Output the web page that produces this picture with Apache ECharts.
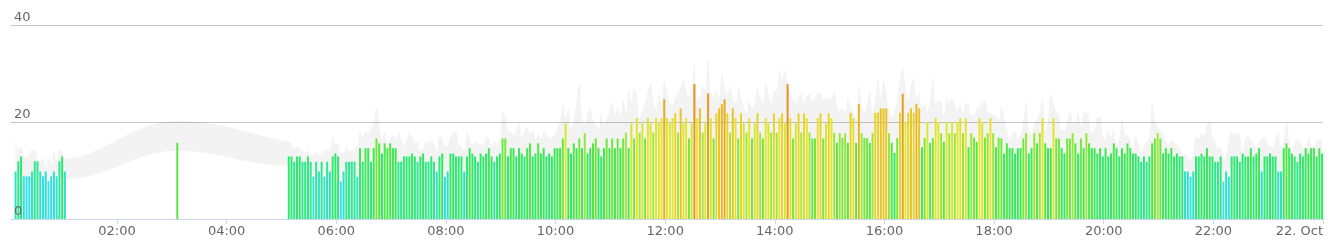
<!DOCTYPE html>
<html>
<head>
<meta charset="utf-8">
<script src="https://cdn.jsdelivr.net/npm/echarts@6/dist/echarts.min.js"></script>
<style>
html,body{margin:0;padding:0;background:#fff;}
#chart{width:1337px;height:250px;}
</style>
</head>
<body>
<div id="chart"></div>
<script>
// Time in minutes after midnight (21 Oct). Readings every 3 minutes.
const STEP = 3;

// 00:09 - 01:03
const windA = [9.8, 11.9, 12.9, 8.8, 8.8, 8.8, 9.8, 11.9, 11.9, 9.8, 8.8, 9.8, 7.8, 8.8, 9.8, 8.8, 11.9, 12.9, 9.8];
const gustA = [16.5, 14.5, 14.9, 13.2, 12.5, 13.5, 14.2, 14.2, 12.5, 11.8, 12.8, 10.8, 12.5, 11.5, 14.2, 12, 14.2, 14.2, 12.5];
const lowA  = [9, 9, 9, 8, 8, 8, 8.5, 9, 9, 8.5, 8, 8, 7.5, 8, 8.5, 8, 8.5, 9, 8.2];
// single reading at 03:06
const wind03 = [15.7];
const gust03 = [20.2];
const low03  = [14];
// 05:08 - 05:59
const windH05 = [12.9, 12.9, 11.8, 12.9, 12.9, 11.8, 11.8, 12.9, 11.8, 8.7, 11.8, 9.8, 11.8, 8.7, 11.8, 9.8, 12.9, 13.5];
const gustH05 = [15.9, 15.5, 14.5, 14.9, 14.5, 14.2, 13.8, 14.2, 13.2, 13.2, 13.8, 13.2, 13.5, 14.2, 14.5, 13.8, 17, 15.5];
const lowH05  = [11, 11, 10.5, 11, 11, 10.5, 10.5, 11, 10, 8, 10, 8.5, 10, 8, 10, 8.5, 11, 11.5];
// each following hour: hh:02 - hh:59
const windH06 = [12.9, 7.7, 9.8, 11.8, 11.8, 11.8, 11.8, 8.7, 14.6, 11.8, 14.6, 14.6, 11.8, 14.6, 16.6, 15.6, 13.5, 15.6, 14.6, 15.6];
const gustH06 = [15.5, 13.6, 13.6, 15, 14, 14.2, 14.5, 15, 18, 17, 18, 18, 18.5, 20, 23, 19.8, 16.5, 18, 15.5, 16.5];
const lowH06  = [11, 7, 8.5, 10.5, 10.5, 10.5, 10, 8, 12.5, 10.5, 12.5, 12.5, 11, 13, 14, 13.5, 12, 13.5, 12.5, 13.5];
const windH07 = [14.6, 14.6, 11.8, 11.8, 12.9, 12.9, 12.9, 13.5, 12.9, 11.8, 12.9, 13.5, 11.8, 11.8, 12.9, 11.8, 9.8, 12.9, 13.5, 8.7];
const gustH07 = [17.3, 16.5, 18, 16.5, 15.3, 16.2, 18, 17, 15.6, 16, 14.2, 14.5, 16, 15.6, 16.2, 15.6, 13.8, 17.3, 16.6, 15];
const lowH07  = [12.5, 12.5, 10.5, 10.5, 11.5, 11.5, 11.5, 12, 11.5, 10.5, 11.5, 12, 10.5, 10.5, 11.5, 10.5, 9, 11.5, 12, 8];
const windH08 = [9.8, 13.5, 13.5, 12.9, 12.9, 12.9, 9.8, 12.9, 14.6, 13.5, 12.9, 11.8, 13.5, 12.9, 13.5, 14.6, 12.9, 11.8, 12.9, 13.5];
const gustH08 = [15.3, 17, 18, 18, 15.6, 14.9, 14.2, 18, 16.5, 15.3, 15.9, 15.6, 15.3, 15.2, 17, 16.5, 15.3, 15.9, 15.3, 16];
const lowH08  = [9, 12, 12, 11.5, 11.5, 11.5, 9, 11.5, 13, 12, 11.5, 10.5, 12, 11.5, 12, 13, 11.5, 10.5, 11.5, 12];
const windH09 = [16.6, 16.6, 12.9, 14.6, 14.6, 12.9, 14.6, 13.5, 12.9, 14.6, 15.6, 12.9, 13.5, 15.6, 13.5, 14.6, 12.9, 13.5, 12.9, 14.6];
const gustH09 = [22, 21.5, 18.4, 18, 17.3, 18.4, 20, 17, 18, 19, 17.6, 18, 16.3, 17.6, 16.6, 18, 17.6, 16.6, 17, 17.3];
const lowH09  = [14.5, 14.5, 11.5, 13, 13, 11.5, 13, 12, 11.5, 13, 14, 11.5, 12, 14, 12, 13, 11.5, 12, 11.5, 13];
const windH10 = [14.6, 14.6, 16.6, 19.7, 14.6, 13.5, 15.6, 14.6, 16.6, 14.6, 17.7, 13.5, 14.6, 15.6, 16.6, 14.6, 12.9, 14.6, 16.6, 14.6];
const gustH10 = [19, 20, 23.8, 21, 22.5, 19, 20.5, 24.2, 28, 21, 19.5, 21.8, 23, 20.5, 19.6, 18.4, 22, 19.5, 21, 22.5];
const lowH10  = [13, 13, 14.5, 16, 13, 12, 14, 13, 14.5, 13, 15.5, 12, 13, 14, 14.5, 13, 11.5, 13, 14.5, 13.5];
const windH11 = [16.6, 14.6, 16.6, 14.6, 16.6, 17.8, 14.6, 19.7, 16.6, 20.8, 17.8, 19.7, 16.6, 20.8, 19.7, 17.8, 20.8, 19.7, 20.8, 24.7];
const gustH11 = [24.2, 21.5, 22.8, 21.5, 24.5, 22, 26.6, 24, 27, 25.6, 21, 22.8, 24, 26.3, 28, 24.5, 22.5, 25.9, 24, 28.7];
const lowH11  = [14.5, 13, 14.5, 13, 14.5, 15.5, 13, 17, 14.5, 18, 15.5, 17, 14.5, 18, 17, 15.5, 18, 17, 18, 15.5];
const windH12 = [20.8, 19.7, 20.8, 21.8, 17.8, 22.8, 19.7, 20.8, 16.6, 19.7, 27.8, 20.8, 22.8, 17.8, 19.7, 25.9, 20.8, 16.6, 21.8, 22.8];
const gustH12 = [26.3, 24, 23.5, 24.9, 26, 27.3, 28.7, 26.6, 25, 27, 32.1, 24.5, 25.5, 27.3, 26.6, 33, 26.5, 25, 26.6, 25];
const lowH12  = [19, 17, 18, 18.5, 15.5, 19, 17, 18, 14.5, 17, 20, 18, 19, 15.5, 17, 19.5, 18, 14.5, 18.5, 19];
const windH13 = [23.7, 24.7, 21.8, 17.8, 22.8, 20.8, 16.6, 21.8, 19.7, 17.8, 20.8, 16.6, 19.7, 21.8, 17.8, 16.6, 20.8, 19.7, 17.8, 21.8];
const gustH13 = [30, 27, 25.9, 27.3, 24.5, 23.8, 27.3, 25.2, 23, 21.8, 24.5, 23, 24, 27.3, 25, 24, 28, 26, 24, 26.5];
const lowH13  = [19.5, 20, 18.5, 15.5, 19, 18, 14.5, 18.5, 17, 15.5, 18, 14.5, 17, 18.5, 15.5, 14.5, 18, 17, 15.5, 18.5];
const windH14 = [17.8, 20.8, 21.8, 19.7, 27.8, 20.8, 16.6, 19.7, 21.8, 17.8, 21.8, 20.8, 17.8, 16.6, 16.6, 20.8, 21.8, 16.6, 19.7, 21.8];
const gustH14 = [26.5, 30.7, 28.7, 30.7, 28, 25.9, 24.5, 23.8, 25.2, 25.9, 23.8, 25.2, 25.9, 24.5, 25.2, 25.9, 25.9, 24.5, 25, 24.5];
const lowH14  = [15.5, 18, 19, 17, 19.5, 18, 14.5, 17, 19, 15.5, 19, 18, 15.5, 14.5, 14.5, 18, 19, 14.5, 17, 19];
const windH15 = [20.8, 17.8, 15.7, 17.7, 16.7, 17.7, 15.7, 21.9, 20.8, 15.7, 23.7, 17.7, 16.7, 16.7, 15.7, 17.7, 21.9, 21.9, 22.8, 22.8];
const gustH15 = [25, 26.3, 24, 22.2, 22.9, 21.9, 25, 23, 21.9, 20.8, 28, 23.6, 22.2, 24, 26.3, 22, 25, 28.7, 25, 28.7];
const lowH15  = [17.5, 15.5, 14.5, 15.5, 14.5, 15.5, 14.5, 18, 17.5, 14.5, 19, 15.5, 14.5, 14.5, 14.5, 15.5, 18, 18, 19, 19];
const windH16 = [22.8, 17.7, 15.7, 13.6, 16.7, 21.9, 25.8, 20, 21.9, 22.8, 21.9, 23.7, 22.8, 14.8, 16.7, 20, 15.7, 16.7, 20.8, 20];
const gustH16 = [25.6, 22.5, 21.2, 21.9, 25, 29, 31.2, 27.7, 24.6, 27.7, 29.1, 25, 26, 22.9, 23.6, 22.2, 24.3, 29.1, 23.6, 24.5];
const lowH16  = [19, 15.5, 14, 12.5, 15, 19, 20, 18, 19, 19.5, 19, 20, 19.5, 13.5, 15, 18, 14.5, 15, 18, 18];
const windH17 = [17.7, 15.9, 20, 17.7, 20, 17.7, 20, 20.8, 17.7, 20.8, 14.8, 17.7, 16.8, 15.9, 20.8, 20, 16.8, 17.7, 20.8, 17.7];
const gustH17 = [24.3, 21.2, 25, 23.9, 25, 23.6, 22.2, 23.6, 21.9, 23.9, 23.6, 21.5, 21.5, 22.9, 23.2, 23.9, 24.3, 22, 21.9, 21.5];
const lowH17  = [15.5, 14.5, 17.5, 15.5, 17.5, 15.5, 17.5, 18, 15.5, 18, 13.5, 15.5, 15, 14.5, 18, 17.5, 15, 15.5, 18, 15.5];
const windH18 = [14.8, 16.8, 16.6, 13.5, 15.6, 14.6, 14.6, 13.5, 14.6, 14.6, 16.6, 17.7, 13.5, 14.6, 17.7, 15.6, 17.7, 20.8, 15.6, 14.6];
const gustH18 = [21.3, 20.5, 23.2, 21, 18.4, 16.6, 17.5, 18, 16.6, 17.7, 20, 24.2, 18.4, 17.3, 19.7, 20.5, 22.1, 25.2, 18.4, 20.4];
const lowH18  = [13, 15, 15, 12, 14, 13, 13, 12, 13, 13, 15, 16, 12, 13, 16, 14, 16, 17, 14, 13];
const windH19 = [14.6, 20.8, 16.6, 16.6, 14.6, 13.5, 16.6, 16.6, 17.7, 15.6, 13.5, 16.6, 14.6, 17.7, 15.6, 14.6, 14.6, 13.5, 14.6, 12.9];
const gustH19 = [25.9, 24, 22.1, 21.8, 18.4, 18.4, 20, 22.1, 20, 19.7, 22.1, 19.2, 21.8, 22.1, 20.5, 17.7, 18.4, 21.1, 21.1, 17];
const lowH19  = [13, 18, 15, 15, 13, 12, 15, 15, 16, 14, 12, 15, 13, 16, 14, 13, 13, 12, 13, 11.5];
const windH20 = [14.6, 12.9, 13.5, 15.6, 14.6, 12.9, 14.6, 13.5, 15.6, 14.6, 13.5, 13.5, 12.9, 11.8, 12.9, 11.8, 12.9, 15.6, 16.6, 17.7];
const gustH20 = [16.3, 18.4, 17, 18.4, 15.3, 16.6, 20.4, 17.7, 17.3, 16.3, 14.6, 17.3, 15.5, 13.5, 14.9, 16, 17, 23.8, 20.4, 19];
const lowH20  = [13, 11.5, 12, 14, 13, 11.5, 13, 12, 14, 13, 12, 12, 11.5, 10.5, 11.5, 10.5, 11.5, 14, 15, 16];
const windH21 = [16.6, 13.5, 14.6, 13.5, 14.6, 12.9, 13.5, 12.9, 12.9, 9.8, 9.8, 8.7, 9.8, 12.9, 12.9, 13.5, 12.9, 14.6, 12.9, 12.9];
const gustH21 = [18.4, 17.3, 16, 15.3, 16.3, 16, 15.3, 14.9, 13, 13.5, 12.9, 12.2, 14, 17, 16.6, 17.7, 17.3, 19.7, 20, 17];
const lowH21  = [13.5, 11.5, 12.5, 11.5, 12.5, 11, 11.5, 11, 10.5, 8.5, 8.5, 7.5, 8.5, 11, 11, 11.5, 11, 12.5, 11, 11];
const windH22 = [11.8, 11.8, 12.9, 7.7, 9.8, 8.7, 12.9, 12.9, 12.9, 11.8, 13.5, 12.9, 12.9, 14.6, 12.9, 13.5, 14.6, 9.8, 12.9, 12.9];
const gustH22 = [16, 14.6, 15, 12, 12.9, 16.5, 18, 17.3, 17.7, 17.3, 14, 16.3, 17, 16.3, 15.5, 14.9, 16, 16.6, 17, 15.9];
const lowH22  = [10, 10, 11, 7, 8.5, 7.5, 11, 11, 11, 10, 11.5, 11, 11, 12.5, 11, 11.5, 12.5, 8.5, 11, 11];
const windH23 = [13.5, 12.9, 12.9, 9.8, 9.8, 14.6, 15.6, 14.6, 13.5, 12.9, 11.8, 13.5, 12.9, 14.6, 13.5, 14.6, 14.6, 12.9, 14.6, 13.5];
const gustH23 = [14.9, 14.9, 16.5, 18, 15, 16.6, 20, 16.6, 14.2, 15.5, 16.6, 15.9, 14.9, 14.2, 16.6, 15.5, 14.9, 16.3, 16.3, 17];
const lowH23  = [11.5, 11, 11, 8.5, 8.5, 12.5, 13, 12.5, 11.5, 11, 10, 11.5, 11, 12.5, 11.5, 12.5, 12.5, 11, 12.5, 11.5];

// axis ticks (minutes) and labels
const xTickMinutes = [120, 240, 360, 480, 600, 720, 840, 960, 1080, 1200, 1320, 1440];
const xTickLabels = ['02:00', '04:00', '06:00', '08:00', '10:00', '12:00', '14:00', '16:00', '18:00', '20:00', '22:00', '22. Oct'];
const yTicks = [0, 20, 40];

// start minute of each block
const blocks = [
  [9, windA, gustA, lowA],
  [186, wind03, gust03, low03],
  [308, windH05, gustH05, lowH05],
  [362, windH06, gustH06, lowH06],
  [422, windH07, gustH07, lowH07],
  [482, windH08, gustH08, lowH08],
  [542, windH09, gustH09, lowH09],
  [602, windH10, gustH10, lowH10],
  [662, windH11, gustH11, lowH11],
  [722, windH12, gustH12, lowH12],
  [782, windH13, gustH13, lowH13],
  [842, windH14, gustH14, lowH14],
  [902, windH15, gustH15, lowH15],
  [962, windH16, gustH16, lowH16],
  [1022, windH17, gustH17, lowH17],
  [1082, windH18, gustH18, lowH18],
  [1142, windH19, gustH19, lowH19],
  [1202, windH20, gustH20, lowH20],
  [1262, windH21, gustH21, lowH21],
  [1322, windH22, gustH22, lowH22],
  [1382, windH23, gustH23, lowH23]
];

const windData = [], gustData = [], lowData = [];
blocks.forEach(([t0, w, g, l]) => {
  w.forEach((v, i) => {
    const t = t0 + STEP * i;
    windData.push([t, v]);
    gustData.push([t, g[i]]);
    lowData.push([t, l[i]]);
  });
});

const FONT = 'DejaVu Sans, Verdana, sans-serif';
const chart = echarts.init(document.getElementById('chart'), null, {renderer: 'canvas'});
chart.setOption({
  animation: false,
  backgroundColor: '#ffffff',
  grid: {left: 11, right: 14, top: 25, bottom: 31, containLabel: false},
  xAxis: {
    type: 'value', min: 4, max: 1440, z: 5,
    axisLine: {show: true, lineStyle: {color: '#ccd6eb', width: 1}},
    axisTick: {show: true, customValues: xTickMinutes, length: 5, lineStyle: {color: '#ccd6eb'}},
    axisLabel: {
      customValues: xTickMinutes, color: '#666666', fontFamily: FONT, fontSize: 13, margin: 6,
      alignMaxLabel: 'right',
      formatter: v => xTickLabels[xTickMinutes.indexOf(v)]
    },
    splitLine: {show: false}
  },
  yAxis: [
    {
      type: 'value', min: yTicks[0], max: yTicks[2], interval: yTicks[1] - yTicks[0], position: 'left',
      axisLine: {show: false}, axisTick: {show: false}, axisLabel: {show: false},
      splitLine: {show: true, lineStyle: {color: '#c6c6c6', width: 1}}
    },
    {
      type: 'value', min: yTicks[0], max: yTicks[2], interval: yTicks[1] - yTicks[0], position: 'left', offset: 0, z: 10,
      axisLine: {show: false}, axisTick: {show: false}, splitLine: {show: false},
      axisLabel: {inside: true, margin: 3, align: 'left', verticalAlign: 'bottom', color: '#666666', fontFamily: FONT, fontSize: 13, padding: [0, 0, 1, 0]}
    }
  ],
  visualMap: {
    type: 'continuous', show: false, seriesIndex: 2, dimension: 1, min: 8, max: 28,
    inRange: {color: ['#3ddcf0', '#30e0e0', '#2ee3c4', '#2ee6a4', '#2ee888', '#2ee870', '#34e85c', '#44e84a',
      '#5ce840', '#80e83c', '#a4e838', '#c4e834', '#dce830', '#e8e030', '#e8d02c', '#e8c028', '#e8b224',
      '#e8a420', '#e89a1e', '#e8941c', '#e8901c']}
  },
  series: [
    {
      name: 'Gust', type: 'line', data: gustData, smooth: 0.4, showSymbol: false, silent: true, z: 1,
      lineStyle: {width: 0, opacity: 0},
      areaStyle: {color: 'rgba(0,0,0,0.065)', origin: 'start'}
    },
    {
      name: 'Low', type: 'line', data: lowData, smooth: 0.4, showSymbol: false, silent: true, z: 1,
      lineStyle: {width: 0, opacity: 0},
      areaStyle: {color: '#ffffff', opacity: 1, origin: 'start'}
    },
    {
      name: 'Wind', type: 'bar', data: windData, barWidth: 2, z: 3, silent: true
    }
  ]
});
</script>
</body>
</html>
